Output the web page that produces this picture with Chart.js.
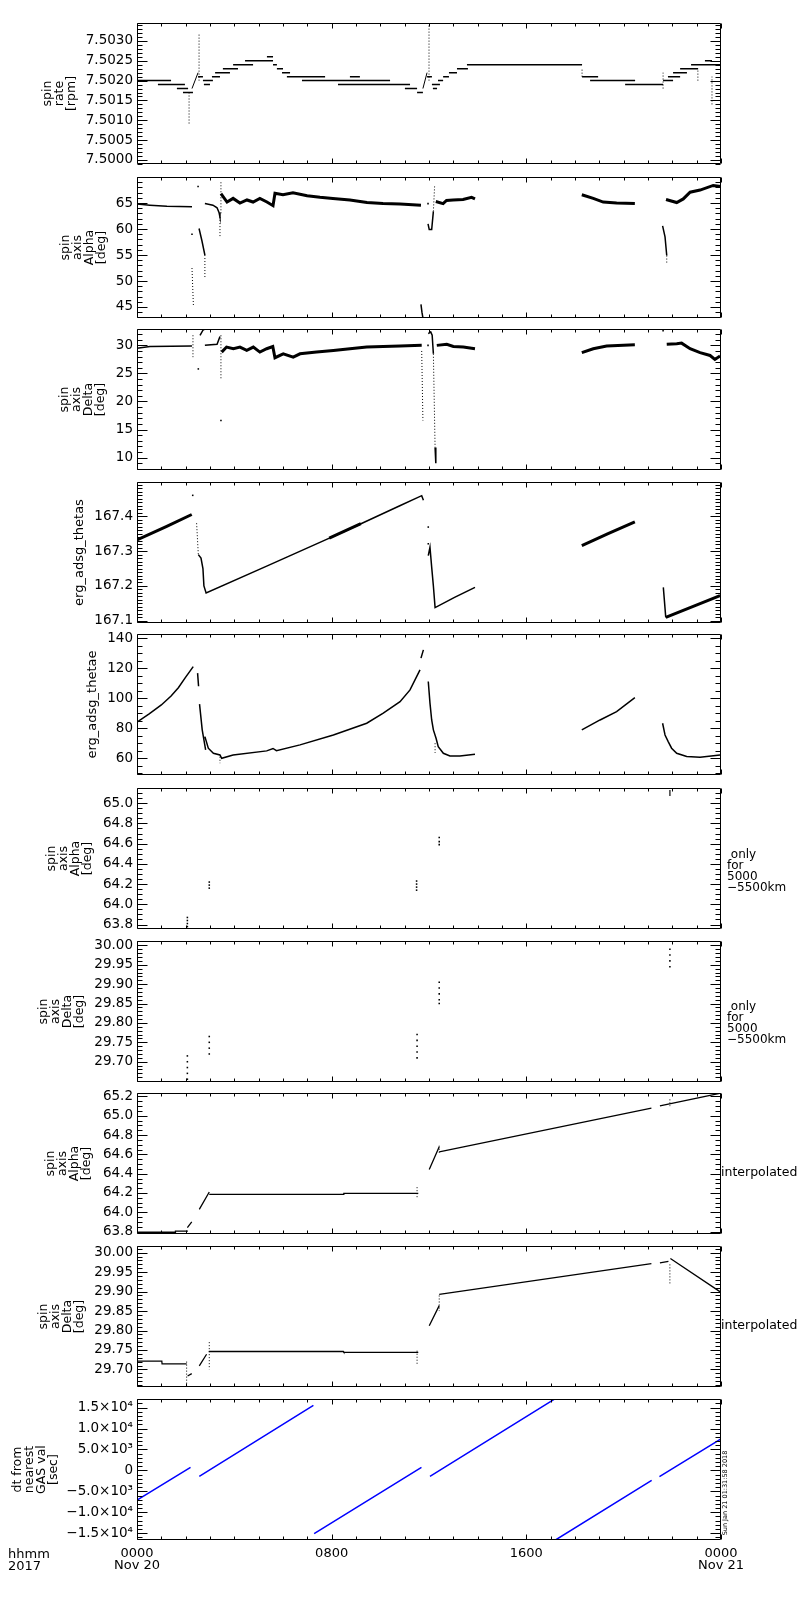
<!DOCTYPE html>
<html>
<head>
<meta charset="utf-8">
<script src="https://cdn.jsdelivr.net/npm/chart.js@4.4.0/dist/chart.umd.min.js"></script>
<style>
body { margin: 0; background: #fff; width: 800px; height: 1600px; position: relative; overflow: hidden; font-family: 'DejaVu Sans', sans-serif; color: #000; }
.panel { position: absolute; left: 0; width: 800px; }
.note { position: absolute; font-size: 12px; line-height: 11px; white-space: pre; }
</style>
</head>
<body>
<div id="plots"></div>
<div class="note" style="left:8px;top:1548px;font-size:13px;line-height:12px">hhmm
2017</div>
<div class="note" style="left:727px;top:849px"> only
for
5000
−5500km</div>
<div class="note" style="left:727px;top:1001px"> only
for
5000
−5500km</div>
<div class="note" style="left:721px;top:1165px;font-size:12.5px;line-height:13px">interpolated</div>
<div class="note" style="left:721px;top:1318px;font-size:12.5px;line-height:13px">interpolated</div>
<div class="note" style="left:675px;top:1489px;width:100px;text-align:center;font-size:6.5px;line-height:8px;transform:rotate(-90deg)">Sun Jan 21 01:31:58 2018</div>
<script>
// time in hours from 0000 Nov 20 2017
const timeTicks = [0, 8, 16, 24];
const timeLabels = [['0000', 'Nov 20'], '0800', '1600', ['0000', 'Nov 21']];

// 1: spin rate [rpm] (quantised levels)
const rateTicks = [7.5000, 7.5005, 7.5010, 7.5015, 7.5020, 7.5025, 7.5030];
const rateStepFrom  = [0.00, 0.86, 1.64, 1.89, 2.51, 2.71, 2.75, 3.08, 3.21, 3.53, 3.95, 4.44, 5.34, 5.59, 5.75, 5.96, 6.16, 6.78, 8.26, 8.75, 11.01, 11.51, 11.92, 12.12, 12.16, 12.37, 12.58, 12.82, 13.15, 13.56, 18.29, 18.62, 20.06, 21.62, 21.82, 22.03, 22.32, 22.77, 23.34];
const rateStepTo    = [1.40, 1.97, 2.10, 2.30, 2.71, 3.12, 3.00, 3.41, 3.82, 4.15, 4.77, 5.59, 5.59, 5.75, 6.00, 6.29, 7.73, 10.40, 11.22, 9.16, 11.51, 11.75, 12.12, 12.45, 12.33, 12.58, 12.82, 13.15, 13.60, 18.29, 18.95, 20.47, 21.62, 22.03, 22.32, 22.60, 23.06, 24.00, 23.63];
const rateStepLevel = [7.5020, 7.5019, 7.5018, 7.5017, 7.5021, 7.5020, 7.5019, 7.5021, 7.5022, 7.5023, 7.5024, 7.5025, 7.5026, 7.5024, 7.5023, 7.5022, 7.5021, 7.5020, 7.5019, 7.5021, 7.5018, 7.5017, 7.5021, 7.5019, 7.5018, 7.5020, 7.5021, 7.5022, 7.5023, 7.5024, 7.5021, 7.5020, 7.5019, 7.5020, 7.5021, 7.5022, 7.5023, 7.5024, 7.5025];
const rateRampT = [2.26, 2.51, null, 11.75, 11.92];
const rateRampV = [7.5018, 7.5022, null, 7.5018, 7.5022];
const rateSpikeT = [2.14, 2.14, null, 2.55, 2.55, null, 12.00, 12.00, null, 18.29, 18.29, null, 21.62, 21.62, null, 23.05, 23.05, null, 23.63, 23.63];
const rateSpikeV = [7.5017, 7.5009, null, 7.5020, 7.5032, null, 7.5020, 7.5034, null, 7.5021, 7.5023, null, 7.5018, 7.5022, null, 7.5020, 7.5023, null, 7.5014, 7.5021];

// 2: spin axis Alpha [deg]
const alphaTicks = [45, 50, 55, 60, 65];
const alphaT = [0, 0.53, 1.23, 2.26, null, 2.55, 2.67, 2.79, null, 2.79, 3.12, 3.29, 3.37, 3.41, null, 11.67, 11.71, 11.75, null, 11.96, 12.01, 12.11, 12.18, null, 21.60, 21.70, 21.77];
const alphaV = [64.8, 64.6, 64.4, 64.3, null, 60.1, 57.7, 55.0, null, 64.9, 64.6, 64.1, 63.2, 62.3, null, 45.5, 44.0, 42.9, null, 61.0, 59.9, 59.9, 63.4, null, 60.6, 58.5, 54.9];
const alphaBandT = [3.45, 3.70, 3.95, 4.23, 4.52, 4.77, 5.05, 5.34, 5.59, 5.67, 6.00, 6.41, 6.99, 7.52, 8.05, 8.75, 9.45, 10.11, 10.81, 11.67, null, 12.28, 12.58, 12.72, 12.99, 13.40, 13.75, 13.89, null, 18.28, 18.75, 19.16, 19.71, 20.46, null, 21.74, 22.18, 22.45, 22.73, 23.14, 23.68, 24.0];
const alphaBandV = [66.8, 65.2, 65.9, 65.0, 65.6, 65.2, 65.9, 65.2, 64.5, 66.9, 66.6, 67.0, 66.4, 66.1, 65.9, 65.6, 65.1, 64.9, 64.8, 64.6, null, 65.3, 64.9, 65.5, 65.6, 65.7, 66.1, 65.8, null, 66.6, 65.9, 65.2, 65.0, 64.9, null, 65.7, 65.1, 65.8, 67.1, 67.5, 68.4, 68.2];
const alphaDotT = [2.26, 2.32, null, 2.79, 2.79, null, 3.41, 3.41, null, 3.45, 3.45, null, 12.18, 12.23, null, 21.77, 21.77];
const alphaDotV = [52.5, 45.0, null, 55.0, 50.5, null, 62.3, 58.5, null, 69.0, 63.0, null, 63.4, 68.2, null, 54.9, 53.5];
const alphaPtT = [2.26, 2.51, 11.96];
const alphaPtV = [59.0, 68.2, 64.9];

// 3: spin axis Delta [deg]
const deltaTicks = [10, 15, 20, 25, 30];
const deltaT = [0, 0.53, 2.26, null, 2.59, 2.71, 2.79, null, 2.79, 3.29, 3.41, null, 11.97, 12.07, 12.13, 12.18, null, 12.25, 12.28];
const deltaV = [29.5, 29.8, 29.9, null, 31.8, 32.7, 32.9, null, 30.0, 30.2, 31.6, null, 32.1, 32.4, 31.8, 28.5, null, 11.8, 9.0];
const deltaBandT = [3.48, 3.68, 3.96, 4.23, 4.51, 4.78, 5.05, 5.33, 5.58, 5.67, 6.01, 6.42, 6.70, 7.38, 8.07, 8.75, 9.44, 10.12, 10.81, 11.70, null, 12.32, 12.73, 13.00, 13.41, 13.89, null, 18.28, 18.75, 19.30, 20.46, null, 21.77, 22.18, 22.38, 22.73, 23.14, 23.55, 23.75, 23.96];
const deltaBandV = [28.8, 29.7, 29.4, 29.7, 29.1, 29.7, 28.8, 29.4, 29.8, 27.8, 28.5, 27.9, 28.5, 28.8, 29.1, 29.4, 29.7, 29.8, 29.9, 30.0, null, 30.0, 30.2, 29.8, 29.7, 29.4, null, 28.7, 29.4, 29.9, 30.1, null, 30.2, 30.3, 30.4, 29.4, 28.7, 28.2, 27.5, 28.1];
const deltaDotT = [2.30, 2.30, null, 3.45, 3.45, null, 11.70, 11.75, null, 12.18, 12.25];
const deltaDotV = [31.8, 27.9, null, 31.8, 23.8, null, 29.0, 16.6, null, 28.5, 11.8];
const deltaPtT = [2.52, 3.45, 11.96, 21.62];
const deltaPtV = [25.8, 16.6, 30.0, 32.6];

// 4: erg_adsg_thetas
const thetasTicks = [167.1, 167.2, 167.3, 167.4];
const thetasT = [2.52, 2.63, 2.71, 2.75, 2.84, 5.33, 7.93, 9.16, 10.80, 11.70, 11.77, null, 11.97, 12.04, 12.11, 12.18, 12.25, 13.05, 13.89, null, 21.63, 21.73];
const thetasV = [167.29, 167.28, 167.25, 167.20, 167.18, 167.257, 167.338, 167.377, 167.43, 167.459, 167.446, null, 167.287, 167.311, 167.254, 167.20, 167.138, 167.167, 167.196, null, 167.196, 167.110];
const thetasBandT = [0, 1.20, 2.25, null, 7.90, 9.20, null, 18.28, 19.36, 20.46, null, 21.73, 22.73, 23.96];
const thetasBandV = [167.332, 167.370, 167.405, null, 167.337, 167.379, null, 167.316, 167.350, 167.384, null, 167.110, 167.138, 167.172];
const thetasDotT = [2.45, 2.52];
const thetasDotV = [167.38, 167.29];
const thetasPtT = [2.29, 11.97, 11.97];
const thetasPtV = [167.46, 167.369, 167.321];

// 5: erg_adsg_thetae
const thetaeTicks = [60, 80, 100, 120, 140];
const thetaeT = [0, 0.5, 1.0, 1.4, 1.7, 2.0, 2.2, 2.31, null, 2.49, 2.53, null, 2.57, 2.68, 2.75, 2.82, null, 2.79, 2.93, 3.14, 3.41, 3.48, 3.95, 5.33, 5.59, 5.73, 6.70, 8.07, 9.44, 10.12, 10.81, 11.22, 11.63, null, 11.67, 11.77, null, 11.97, 12.04, 12.11, 12.18, 12.29, 12.38, 12.59, 12.86, 13.27, 13.89, null, 18.28, 19.03, 19.71, 20.46, null, 21.60, 21.70, 21.83, 21.97, 22.18, 22.59, 23.14, 23.96];
const thetaeV = [84, 89.5, 95.5, 101.5, 107, 114, 118.5, 121, null, 116.7, 108, null, 96, 78.9, 72.2, 65.5, null, 74.4, 66.7, 63.3, 62.2, 60.0, 62.2, 64.9, 66.5, 65.0, 68.9, 75.5, 83.3, 90.0, 97.7, 105.5, 118.9, null, 126.7, 132.2, null, 111.1, 96.7, 85.5, 78.9, 73.3, 67.7, 63.3, 61.5, 61.5, 62.7, null, 78.9, 85.5, 91.1, 100.4, null, 83.3, 75.5, 71.1, 66.7, 63.3, 61.1, 60.7, 62.2];
const thetaeDotT = [3.41, 3.41, null, 12.25, 12.25];
const thetaeDotV = [61.0, 56.7, null, 70.0, 63.5];

// 6: spin axis Alpha, only for 5000-5500km
const onlyAlphaTicks = [63.8, 64.0, 64.2, 64.4, 64.6, 64.8, 65.0];
const onlyAlphaT = [2.07, 2.07, 2.07, 2.07, 2.97, 2.97, 2.97, 11.49, 11.49, 11.49, 11.49, 12.42, 12.42, 12.42, 21.90, 21.90, 21.90, 21.90];
const onlyAlphaV = [63.87, 63.84, 63.81, 63.78, 64.22, 64.19, 64.16, 64.23, 64.20, 64.17, 64.14, 64.66, 64.62, 64.59, 65.15, 65.12, 65.10, 65.08];

// 7: spin axis Delta, only for 5000-5500km
const onlyDeltaTicks = [29.70, 29.75, 29.80, 29.85, 29.90, 29.95, 30.00];
const onlyDeltaT = [2.07, 2.07, 2.07, 2.07, 2.07, 2.97, 2.97, 2.97, 2.97, 11.51, 11.51, 11.51, 11.51, 11.51, 12.42, 12.42, 12.42, 12.42, 12.42, 21.90, 21.90, 21.90, 21.90];
const onlyDeltaV = [29.715, 29.700, 29.685, 29.670, 29.655, 29.765, 29.750, 29.735, 29.720, 29.770, 29.755, 29.740, 29.725, 29.710, 29.905, 29.890, 29.875, 29.860, 29.850, 29.990, 29.975, 29.960, 29.945];

// 8: spin axis Alpha, interpolated
const interpAlphaTicks = [63.8, 64.0, 64.2, 64.4, 64.6, 64.8, 65.0, 65.2];
const interpAlphaT = [0, 1.57, 1.58, 2.07, null, 2.07, 2.25, null, 2.56, 2.97, null, 2.97, 8.48, 8.50, 11.56, null, 12.01, 12.42, null, 12.42, 21.14, null, 21.49, 24];
const interpAlphaV = [63.793, 63.793, 63.805, 63.805, null, 63.84, 63.90, null, 64.03, 64.21, null, 64.185, 64.185, 64.195, 64.195, null, 64.443, 64.679, null, 64.627, 65.079, null, 65.103, 65.235];
const interpAlphaDotT = [2.07, 2.07, null, 11.51, 11.51, null, 12.42, 12.42, null, 21.90, 21.90];
const interpAlphaDotV = [63.81, 63.77, null, 64.26, 64.14, null, 64.69, 64.61, null, 65.17, 65.10];

// 9: spin axis Delta, interpolated
const interpDeltaTicks = [29.70, 29.75, 29.80, 29.85, 29.90, 29.95, 30.00];
const interpDeltaT = [0, 1.02, 1.03, 2.04, null, 2.08, 2.25, null, 2.56, 2.86, null, 2.95, 8.48, 8.50, 11.56, null, 12.01, 12.42, null, 12.42, 21.14, null, 21.49, 21.84, null, 21.92, 24];
const interpDeltaV = [29.7215, 29.7215, 29.714, 29.714, null, 29.683, 29.689, null, 29.709, 29.739, null, 29.746, 29.746, 29.744, 29.744, null, 29.812, 29.864, null, 29.893, 29.972, null, 29.974, 29.978, null, 29.985, 29.898];
const interpDeltaDotT = [2.04, 2.04, null, 2.97, 2.97, null, 11.51, 11.51, null, 12.42, 12.42, null, 21.90, 21.90];
const interpDeltaDotV = [29.720, 29.655, null, 29.770, 29.700, null, 29.748, 29.710, null, 29.890, 29.850, null, 29.970, 29.920];

// 10: dt from nearest GAS val [sec]
const dtTicks = [-15000, -10000, -5000, 0, 5000, 10000, 15000];
const dtTickLabels = ['−1.5×10⁴', '−1.0×10⁴', '−5.0×10³', '0', '5.0×10³', '1.0×10⁴', '1.5×10⁴'];
const dtT = [0, 2.20, null, 2.56, 7.25, null, 7.28, 11.69, null, 12.04, 17.14, null, 17.20, 21.15, null, 21.47, 24];
const dtV = [-7100, 750, null, -1400, 15500, null, -15100, 700, null, -1400, 16950, null, -16600, -2400, null, -1500, 7500];

Chart.defaults.font.family = "'DejaVu Sans', sans-serif";
Chart.defaults.color = '#000';

function pairs(t, v) {
  let last = 0;
  return v.map((y, i) => {
    if (t[i] !== null) last = t[i];
    return {x: last, y: y};
  });
}
function solid(t, v, w, color) {
  return {data: pairs(t, v), borderColor: color || '#000', borderWidth: w || 1, pointRadius: 0};
}
function dotted(t, v) {
  return {data: pairs(t, v), borderColor: '#000', borderWidth: 1, borderDash: [1, 2], pointRadius: 0};
}
function specks(t, v) {
  return {data: pairs(t, v), showLine: false, pointRadius: 1.1, pointStyle: 'rect',
          pointBackgroundColor: '#000', pointBorderWidth: 0};
}
function steps(from, to, level) {
  const d = [];
  from.forEach((s, i) => {
    d.push({x: s, y: level[i]}, {x: to[i], y: level[i]}, {x: to[i], y: null});
  });
  return {data: d, borderColor: '#000', borderWidth: 1.5, pointRadius: 0};
}

// IDL style box with inward major/minor ticks on all four sides
function idlFrame(minorStep) {
  return {
    id: 'idlFrame',
    afterDatasetsDraw(chart) {
      const {ctx, chartArea: a, scales} = chart;
      const x = scales.x, y = scales.y;
      const L = Math.round(a.left) + 0.5, R = Math.round(a.right) - 0.5;
      const T = Math.round(a.top) + 0.5, B = Math.round(a.bottom) - 0.5;
      const majors = y.ticks.map(t => t.value);
      ctx.save();
      ctx.strokeStyle = '#000';
      ctx.lineWidth = 1;
      ctx.beginPath();
      ctx.rect(L, T, R - L, B - T);
      const n0 = Math.ceil(y.min / minorStep - 1e-6), n1 = Math.floor(y.max / minorStep + 1e-6);
      for (let k = n0; k <= n1; k++) {
        const v = k * minorStep;
        const len = majors.some(m => Math.abs(m - v) < minorStep / 10) ? 10 : 5;
        const py = Math.round(y.getPixelForValue(v)) + 0.5;
        ctx.moveTo(L, py); ctx.lineTo(L + len, py);
        ctx.moveTo(R, py); ctx.lineTo(R - len, py);
      }
      for (let h = 0; h <= 24; h++) {
        const len = h % 8 === 0 ? 5 : 3;
        const px = Math.round(x.getPixelForValue(h)) + 0.5;
        ctx.moveTo(px, T); ctx.lineTo(px, T + len);
        ctx.moveTo(px, B); ctx.lineTo(px, B - len);
      }
      ctx.stroke();
      ctx.restore();
    }
  };
}

const panels = [
  {top: 23, title: ['spin', 'rate', '[rpm]'], titleX: 48, min: 7.4999, max: 7.50345, ticks: rateTicks, dec: 4, minor: 0.0001,
   sets: [steps(rateStepFrom, rateStepTo, rateStepLevel), solid(rateRampT, rateRampV), dotted(rateSpikeT, rateSpikeV)]},
  {top: 177, title: ['spin', 'axis', 'Alpha', '[deg]'], titleX: 66, min: 42.9, max: 70, ticks: alphaTicks, dec: 0, minor: 1,
   sets: [solid(alphaT, alphaV, 1.5), solid(alphaBandT, alphaBandV, 3), dotted(alphaDotT, alphaDotV), specks(alphaPtT, alphaPtV)]},
  {top: 329, title: ['spin', 'axis', 'Delta', '[deg]'], titleX: 65, min: 7.8, max: 32.9, ticks: deltaTicks, dec: 0, minor: 1,
   sets: [solid(deltaT, deltaV, 1.5), solid(deltaBandT, deltaBandV, 3), dotted(deltaDotT, deltaDotV), specks(deltaPtT, deltaPtV)]},
  {top: 482, title: 'erg_adsg_thetas', titleSize: 13, titleX: 80, min: 167.094, max: 167.498, ticks: thetasTicks, dec: 1, minor: 0.01,
   sets: [solid(thetasT, thetasV, 1.5), solid(thetasBandT, thetasBandV, 3), dotted(thetasDotT, thetasDotV), specks(thetasPtT, thetasPtV)]},
  {top: 634, title: 'erg_adsg_thetae', titleSize: 13, titleX: 93, min: 48.9, max: 142.7, ticks: thetaeTicks, dec: 0, minor: 5,
   sets: [solid(thetaeT, thetaeV, 1.5), dotted(thetaeDotT, thetaeDotV)]},
  {top: 788, title: ['spin', 'axis', 'Alpha', '[deg]'], titleX: 52, min: 63.757, max: 65.149, ticks: onlyAlphaTicks, dec: 1, minor: 0.05,
   sets: [specks(onlyAlphaT, onlyAlphaV)]},
  {top: 941, title: ['spin', 'axis', 'Delta', '[deg]'], titleX: 44, min: 29.648, max: 30.011, ticks: onlyDeltaTicks, dec: 2, minor: 0.01,
   sets: [specks(onlyDeltaT, onlyDeltaV)]},
  {top: 1093, title: ['spin', 'axis', 'Alpha', '[deg]'], titleX: 51, min: 63.776, max: 65.235, ticks: interpAlphaTicks, dec: 1, minor: 0.05,
   sets: [solid(interpAlphaT, interpAlphaV, 1.3), dotted(interpAlphaDotT, interpAlphaDotV)]},
  {top: 1246, title: ['spin', 'axis', 'Delta', '[deg]'], titleX: 44, min: 29.655, max: 30.017, ticks: interpDeltaTicks, dec: 2, minor: 0.01,
   sets: [solid(interpDeltaT, interpDeltaV, 1.3), dotted(interpDeltaDotT, interpDeltaDotV)]},
  {top: 1399, title: ['dt from', 'nearest', 'GAS val', '[sec]'], titleX: 18, min: -16610, max: 17020, ticks: dtTicks, labels: dtTickLabels, minor: 1000,
   sets: [solid(dtT, dtV, 1.5, '#0000ff')]}
];

const holder = document.getElementById('plots');
panels.forEach((p, i) => {
  const last = i === panels.length - 1;
  const H = last ? 205 : 165;
  const box = document.createElement('div');
  box.className = 'panel';
  box.style.top = (p.top - 12) + 'px';
  box.style.height = H + 'px';
  const cv = document.createElement('canvas');
  cv.width = 800; cv.height = H;
  cv.style.width = '800px'; cv.style.height = H + 'px';
  box.appendChild(cv);
  holder.appendChild(box);

  new Chart(cv, {
    type: 'line',
    data: {datasets: p.sets},
    options: {
      responsive: false,
      animation: false,
      events: [],
      elements: {line: {tension: 0}},
      layout: {padding: {left: 0, right: 79, top: 12, bottom: 12}},
      plugins: {legend: {display: false}, tooltip: {enabled: false}},
      scales: {
        x: {
          type: 'linear', min: 0, max: 24, display: last,
          afterBuildTicks: s => { s.ticks = timeTicks.map(v => ({value: v})); },
          afterFit: s => { s.height = last ? 40 : 0; },
          ticks: {callback: (v, k) => timeLabels[k], maxRotation: 0, autoSkip: false, padding: 8,
                  font: {size: 13, lineHeight: '12px'}, color: '#000'},
          grid: {display: false, drawTicks: false},
          border: {display: false}
        },
        y: {
          type: 'linear', min: p.min, max: p.max,
          afterBuildTicks: s => { s.ticks = p.ticks.map(v => ({value: v})); },
          afterFit: s => { s.width = 137; },
          ticks: {callback: (v, k) => p.labels ? p.labels[k] : p.ticks[k].toFixed(p.dec),
                  autoSkip: false, padding: 4, font: {size: 13.5}, color: '#000'},
          grid: {display: false, drawTicks: false},
          border: {display: false},
          title: {display: true, text: p.title, color: '#000',
                  font: {size: p.titleSize || 12.5, lineHeight: '12px'},
                  padding: {top: p.titleX - 6, bottom: 0}}
        }
      }
    },
    plugins: [idlFrame(p.minor)]
  });
});
</script>
</body>
</html>
